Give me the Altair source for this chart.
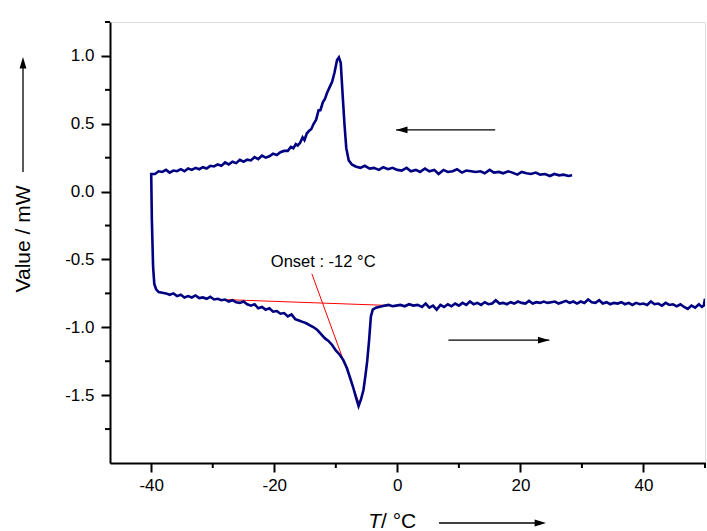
import altair as alt
import pandas as pd

# ---- DSC trace (cooling from +28 °C to -40 °C, then heating to +50 °C) ----
cool_T = [28.4, 27.8, 27.0, 26.3, 25.5, 24.8, 24.0, 23.2, 22.5, 21.7, 21.0, 20.2, 19.5, 18.7,
          18.0, 17.2, 16.5, 15.7, 15.0, 14.2, 13.5, 12.7, 12.0, 11.2, 10.5, 9.7, 9.0, 8.2, 7.5,
          6.7, 6.0, 5.2, 4.5, 3.7, 3.0, 2.2, 1.5, 0.7, 0.0, -0.8, -1.5, -2.3, -3.0, -3.8, -4.5,
          -5.3, -6.0, -6.8, -7.4, -7.9, -8.3, -8.6, -8.9, -9.2, -9.5, -9.8, -10.2, -10.6, -11.0,
          -11.4, -11.8, -12.1, -12.5, -12.8, -13.2, -13.6, -14.0, -14.3, -14.7, -15.1, -15.4,
          -15.8, -16.2, -16.5, -16.9, -17.3, -17.8, -18.4, -19.0, -19.6, -20.2, -20.8, -21.4,
          -22.0, -22.6, -23.2, -23.8, -24.4, -25.0, -25.6, -26.2, -26.8, -27.4, -28.0, -28.6,
          -29.2, -29.8, -30.4, -31.0, -31.6, -32.2, -32.8, -33.4, -34.0, -34.6, -35.2, -35.8,
          -36.4, -37.0, -37.6, -38.2, -38.8, -39.4, -40.0]
cool_V = [0.12, 0.115, 0.125, 0.12, 0.13, 0.115, 0.13, 0.125, 0.14, 0.13, 0.135, 0.145, 0.125, 0.14,
          0.15, 0.135, 0.145, 0.14, 0.16, 0.135, 0.15, 0.145, 0.15, 0.155, 0.14, 0.165, 0.15, 0.145, 0.16,
          0.13, 0.16, 0.15, 0.17, 0.145, 0.16, 0.15, 0.175, 0.155, 0.16, 0.175, 0.165, 0.18, 0.16, 0.175, 0.17,
          0.19, 0.175, 0.185, 0.2, 0.23, 0.32, 0.5, 0.72, 0.95, 0.99, 0.97, 0.88, 0.81, 0.77,
          0.73, 0.68, 0.66, 0.6, 0.6, 0.53, 0.5, 0.46, 0.45, 0.43, 0.38, 0.4,
          0.36, 0.34, 0.35, 0.32, 0.33, 0.3, 0.3, 0.29, 0.27, 0.28, 0.26, 0.25,
          0.265, 0.24, 0.255, 0.23, 0.235, 0.22, 0.235, 0.21, 0.22, 0.2, 0.215, 0.19,
          0.2, 0.185, 0.19, 0.17, 0.18, 0.165, 0.175, 0.16, 0.17, 0.15, 0.165, 0.15,
          0.155, 0.14, 0.16, 0.145, 0.15, 0.13, 0.13]

heat_T = [-39.9, -39.7, -39.5, -39.2, -38.8, -38.2, -37.6, -37.0, -36.4, -35.8, -35.2, -34.6,
          -34.0, -33.4, -32.8, -32.2, -31.6, -31.0, -30.4, -29.8, -29.2, -28.6, -28.0, -27.4,
          -26.8, -26.2, -25.6, -25.0, -24.4, -23.8, -23.2, -22.6, -22.0, -21.4, -20.8, -20.2,
          -19.6, -19.0, -18.4, -17.8, -17.2, -16.6, -16.0, -15.4, -14.8, -14.2, -13.6, -13.0,
          -12.4, -11.8, -11.2, -10.6, -10.0, -9.4, -8.8, -8.2, -7.7, -7.2, -6.7, -6.3, -5.9,
          -5.5, -5.2, -4.9, -4.6, -4.3, -4.0, -3.5, -3.0, -2.5, -2.0, -1.4, -0.8,
          -0.2, 0.5, 1.2, 1.9, 2.6, 3.3, 4.0, 4.6, 5.2, 5.8, 6.4, 7.0, 7.6, 8.2, 8.8, 9.4,
          10.0, 10.6, 11.2, 11.8, 12.4, 13.0, 13.6, 14.2, 14.8, 15.4, 16.0, 16.6, 17.2, 17.8,
          18.4, 19.0, 19.6, 20.2, 20.8, 21.4, 22.0, 22.6, 23.2, 23.8, 24.4, 25.0, 25.6, 26.2,
          26.8, 27.4, 28.0, 28.6, 29.2, 29.8, 30.4, 31.0, 31.6, 32.2, 32.8, 33.4, 34.0, 34.6,
          35.2, 35.8, 36.4, 37.0, 37.6, 38.2, 38.8, 39.4, 40.0, 40.6, 41.2, 41.8, 42.4, 43.0,
          43.6, 44.2, 44.8, 45.4, 46.0, 46.6, 47.2, 47.8, 48.4, 49.0, 49.5, 49.8, 50.0]
heat_V = [-0.2, -0.55, -0.68, -0.72, -0.74, -0.745, -0.75, -0.76, -0.75, -0.77, -0.76, -0.78,
          -0.77, -0.78, -0.765, -0.785, -0.78, -0.79, -0.775, -0.795, -0.79, -0.8, -0.795, -0.81,
          -0.8, -0.815, -0.82, -0.81, -0.83, -0.84, -0.83, -0.86, -0.85, -0.87, -0.86, -0.885,
          -0.88, -0.9, -0.895, -0.92, -0.905, -0.94, -0.95, -0.96, -0.97, -0.985, -1.0, -1.02,
          -1.05, -1.08, -1.1, -1.13, -1.17, -1.2, -1.24, -1.3, -1.37, -1.44, -1.52, -1.58, -1.53,
          -1.46, -1.36, -1.25, -1.1, -0.92, -0.87, -0.855, -0.85, -0.845, -0.84, -0.835, -0.845,
          -0.84, -0.835, -0.845, -0.83, -0.84, -0.835, -0.85, -0.825, -0.855, -0.84, -0.87, -0.835, -0.85, -0.83, -0.845, -0.825,
          -0.84, -0.82, -0.835, -0.81, -0.83, -0.82, -0.835, -0.815, -0.83, -0.825, -0.8, -0.825, -0.82, -0.83,
          -0.815, -0.825, -0.81, -0.82, -0.825, -0.805, -0.825, -0.815, -0.82, -0.81, -0.82, -0.815, -0.81, -0.825,
          -0.815, -0.805, -0.82, -0.81, -0.825, -0.81, -0.82, -0.795, -0.815, -0.82, -0.8, -0.825, -0.815, -0.83,
          -0.82, -0.825, -0.815, -0.83, -0.82, -0.835, -0.82, -0.83, -0.825, -0.835, -0.81, -0.83, -0.825, -0.84,
          -0.82, -0.835, -0.83, -0.845, -0.83, -0.85, -0.865, -0.84, -0.855, -0.83, -0.85, -0.84, -0.79]

# ---- onset construction (red) ----
base_T = [-29.1, -2.0]
base_V = [-0.794, -0.838]
tang_T = [-13.9, -6.3]
tang_V = [-0.605, -1.55]
onset_label = "Onset : -12 °C"
onset_pos = [-12.05, -0.522]

# ---- direction arrows (data coordinates) ----
arrow_cool_T = [15.9, -0.2]
arrow_cool_V = 0.455
arrow_heat_T = [8.3, 24.7]
arrow_heat_V = -1.095

x_major = [-40, -20, 0, 20, 40]
x_minor = [-30, -10, 10, 30, 50]
y_major = [-1.5, -1.0, -0.5, 0.0, 0.5, 1.0]
y_minor = [-1.75, -1.25, -0.75, -0.25, 0.25, 0.75, 1.25]

FONT = "Liberation Sans"
NAVY = "#000080"
W, H = 595, 441
HEAD = 130

T_all = cool_T + heat_T
V_all = cool_V + heat_V
df = pd.DataFrame({"T": T_all, "V": V_all, "i": list(range(len(T_all)))})

xs = alt.Scale(domain=[-46.7, 50], nice=False, zero=False)
ys = alt.Scale(domain=[-2.0, 1.25], nice=False, zero=False)

x_axis = alt.Axis(values=x_major, title=None, grid=False, tickSize=9, tickWidth=2, tickColor="black",
                  domainColor="black", domainWidth=2, labelFont=FONT, labelFontSize=17,
                  labelColor="black", labelPadding=5,
                  labelExpr="(datum.value < 0 ? '-' : '') + format(abs(datum.value), 'd')")
y_axis = alt.Axis(values=y_major, title=None, grid=False, tickSize=9, tickWidth=2, tickColor="black",
                  domainColor="black", domainWidth=2, labelFont=FONT, labelFontSize=17,
                  labelColor="black", labelPadding=7,
                  labelExpr="(datum.value < 0 ? '-' : '') + format(abs(datum.value), '.1f')")

curve = alt.Chart(df).mark_line(color=NAVY, strokeWidth=2.6, clip=True).encode(
    x=alt.X("T:Q", scale=xs, axis=x_axis),
    y=alt.Y("V:Q", scale=ys, axis=y_axis),
    order="i:Q",
)

red_df = pd.DataFrame({
    "T": base_T + tang_T,
    "V": base_V + tang_V,
    "g": ["base", "base", "tan", "tan"],
})
red = alt.Chart(red_df).mark_line(color="#ff0000", strokeWidth=1).encode(
    x=alt.X("T:Q", scale=xs), y=alt.Y("V:Q", scale=ys), detail="g:N")

onset = alt.Chart(pd.DataFrame({"T": [onset_pos[0]], "V": [onset_pos[1]], "t": [onset_label]})).mark_text(
    font=FONT, fontSize=16.5, color="black", align="center", baseline="middle").encode(
    x=alt.X("T:Q", scale=xs), y=alt.Y("V:Q", scale=ys), text="t:N")

arr_df = pd.DataFrame({
    "T": arrow_cool_T + arrow_heat_T,
    "V": [arrow_cool_V] * 2 + [arrow_heat_V] * 2,
    "g": ["c", "c", "h", "h"],
})
arr_lines = alt.Chart(arr_df).mark_line(color="black", strokeWidth=1.3).encode(
    x=alt.X("T:Q", scale=xs), y=alt.Y("V:Q", scale=ys), detail="g:N")

head_left = "M0,0 L2,-0.6 L2,0.6 Z"
head_right = "M0,0 L-2,-0.6 L-2,0.6 Z"
head_up = "M0,0 L-0.6,2 L0.6,2 Z"
heads = alt.layer(
    alt.Chart(pd.DataFrame({"T": [arrow_cool_T[1]], "V": [arrow_cool_V]})).mark_point(
        shape=head_left, filled=True, color="black", size=HEAD, opacity=1).encode(
        x=alt.X("T:Q", scale=xs), y=alt.Y("V:Q", scale=ys)),
    alt.Chart(pd.DataFrame({"T": [arrow_heat_T[1]], "V": [arrow_heat_V]})).mark_point(
        shape=head_right, filled=True, color="black", size=HEAD, opacity=1).encode(
        x=alt.X("T:Q", scale=xs), y=alt.Y("V:Q", scale=ys)),
)

# minor ticks
one = pd.DataFrame({"a": [0]})
xminor = alt.Chart(pd.DataFrame({"T": x_minor})).mark_rule(color="black", strokeWidth=2).encode(
    x=alt.X("T:Q", scale=xs), y=alt.value(H), y2=alt.value(H + 5))
yminor = alt.Chart(pd.DataFrame({"V": y_minor})).mark_rule(color="black", strokeWidth=2).encode(
    y=alt.Y("V:Q", scale=ys), x=alt.value(0), x2=alt.value(-5))

# axis titles with arrows
ytitle = alt.Chart(one).mark_text(font=FONT, fontSize=21, angle=270, color="black",
                                  align="center", baseline="middle").encode(
    x=alt.value(-86), y=alt.value(217), text=alt.value("Value / mW"))
yarrow = alt.Chart(one).mark_rule(color="black", strokeWidth=1.3).encode(
    x=alt.value(-87), y=alt.value(150), y2=alt.value(45))
yhead = alt.Chart(one).mark_point(shape=head_up, filled=True, color="black", size=HEAD, opacity=1).encode(
    x=alt.value(-87), y=alt.value(35))
xt_T = alt.Chart(one).mark_text(font=FONT, fontSize=21, fontStyle="italic", color="black",
                                align="right", baseline="middle").encode(
    x=alt.value(271), y=alt.value(500), text=alt.value("T"))
xt_rest = alt.Chart(one).mark_text(font=FONT, fontSize=21, color="black",
                                   align="left", baseline="middle").encode(
    x=alt.value(271), y=alt.value(500), text=alt.value("/ °C"))
xarrow = alt.Chart(one).mark_rule(color="black", strokeWidth=1.3).encode(
    x=alt.value(329), x2=alt.value(428), y=alt.value(501))
xhead = alt.Chart(one).mark_point(shape=head_right, filled=True, color="black", size=HEAD, opacity=1).encode(
    x=alt.value(436), y=alt.value(501))

chart = alt.layer(
    red, curve, onset, arr_lines, heads, xminor, yminor,
    ytitle, yarrow, yhead, xt_T, xt_rest, xarrow, xhead,
).properties(
    width=W, height=H, autosize="none",
    padding={"left": 110, "top": 22, "right": 2, "bottom": 68},
).configure_view(stroke=None).configure(background="white")

chart.save("out.html", embed_options={"renderer": "svg", "actions": False})
